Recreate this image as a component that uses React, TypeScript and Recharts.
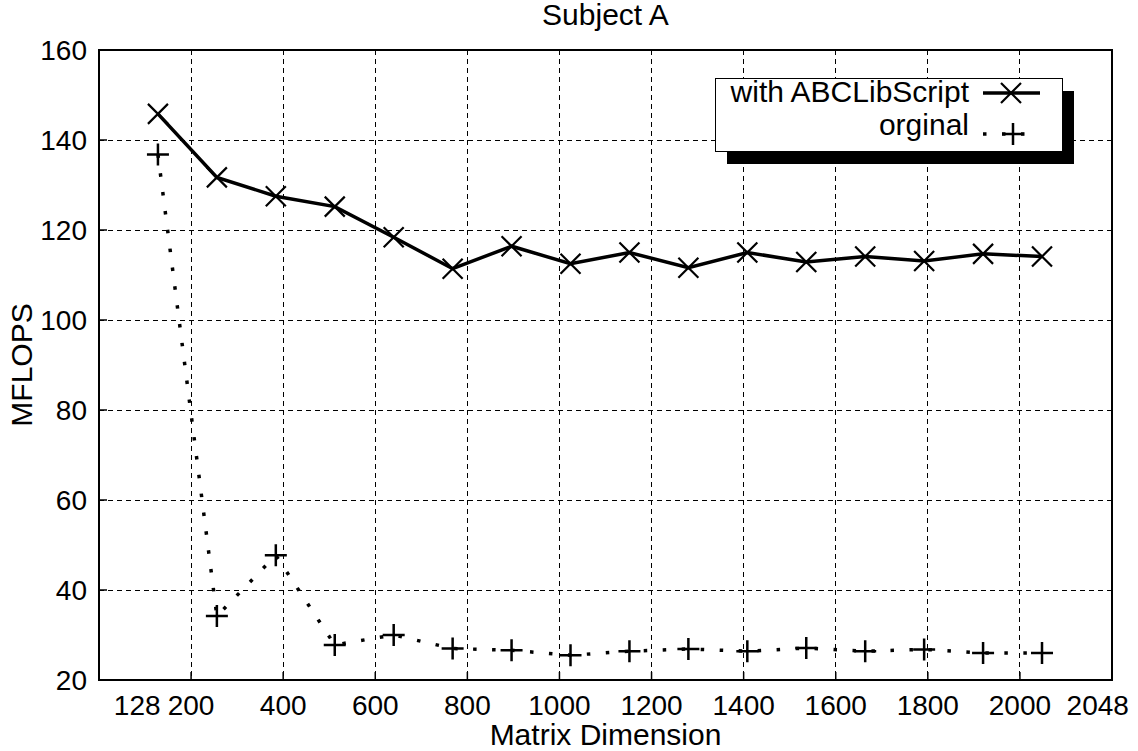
import React from 'react';
import { LineChart, Line, XAxis, YAxis, CartesianGrid, Legend, ReferenceArea } from 'recharts';

// matrix sizes (x) and measured MFLOPS for each series
const sizes = [128, 256, 384, 512, 640, 768, 896, 1024, 1152, 1280, 1408, 1536, 1664, 1792, 1920, 2048];
const withABCLib = [145.8, 131.7, 127.5, 125.2, 118.4, 111.4, 116.4, 112.5, 115.0, 111.6, 115.0, 112.9, 114.1, 113.1, 114.7, 114.1];
const orginal = [136.8, 34.2, 47.7, 27.8, 30.0, 27.0, 26.6, 25.5, 26.4, 26.9, 26.4, 27.1, 26.4, 26.8, 26.0, 26.0];

// x tick labels: "128" and "2048" sit beside the gridded ticks, without a tick mark
const xTickValues = [83, 200, 400, 600, 800, 1000, 1200, 1400, 1600, 1800, 2000, 2169];
const xTickLabels = ['128', '200', '400', '600', '800', '1000', '1200', '1400', '1600', '1800', '2000', '2048'];
const xGrid = [200, 400, 600, 800, 1000, 1200, 1400, 1600, 1800, 2000];
const yTicks = [20, 40, 60, 80, 100, 120, 140, 160];
const yGrid = [40, 60, 80, 100, 120, 140];

const FONT = '"Liberation Sans", Arial, Helvetica, sans-serif';

const data = sizes.map((x, i) => ({ x, abc: withABCLib[i], org: orginal[i] }));

const CrossDot = (props: any) => {
  const { cx, cy, index } = props;
  if (cx == null || cy == null) return <g key={`c${index}`} />;
  const s = 10;
  return (
    <path key={`c${index}`} d={`M${cx - s},${cy - s}L${cx + s},${cy + s}M${cx - s},${cy + s}L${cx + s},${cy - s}`}
      stroke="#000" strokeWidth={2.2} fill="none" />
  );
};

const PlusDot = (props: any) => {
  const { cx, cy, index } = props;
  if (cx == null || cy == null) return <g key={`p${index}`} />;
  const s = 11;
  return (
    <path key={`p${index}`} d={`M${cx - s},${cy}L${cx + s},${cy}M${cx},${cy - s}L${cx},${cy + s}`}
      stroke="#000" strokeWidth={2.5} fill="none" />
  );
};

const XTick = (props: any) => {
  const { x, y, payload } = props;
  const idx = xTickValues.indexOf(payload.value);
  const label = idx >= 0 ? xTickLabels[idx] : String(payload.value);
  const gridded = xGrid.includes(payload.value);
  return (
    <g>
      {gridded && <line x1={x} x2={x} y1={y - 15} y2={y - 23} stroke="#000" strokeWidth={1.5} />}
      <text x={x} y={y} dy="0.71em" textAnchor="middle" fontSize={28} fontFamily={FONT} fill="#000">{label}</text>
    </g>
  );
};

const LegendBox = () => (
  <svg width={362} height={88} style={{ display: 'block', overflow: 'visible' }}>
    <rect x={12} y={13} width={347} height={73} fill="#000" />
    <rect x={0.5} y={0.5} width={347} height={73} fill="#fff" stroke="#000" strokeWidth={1} />
    <text x={254} y={24} textAnchor="end" fontSize={30} fontFamily={FONT} fill="#000">with ABCLibScript</text>
    <line x1={268} x2={325} y1={15} y2={15} stroke="#000" strokeWidth={3.5} />
    <CrossDot cx={296} cy={15} index={0} />
    <text x={254} y={57} textAnchor="end" fontSize={30} fontFamily={FONT} fill="#000">orginal</text>
    <line x1={268} x2={325} y1={56} y2={56} stroke="#000" strokeWidth={3.5} strokeDasharray="3.5 15.5" />
    <PlusDot cx={298} cy={56} index={0} />
  </svg>
);

export default function App() {
  return (
    <div style={{ position: 'absolute', left: 0, top: 0, width: 1138, height: 751, background: '#fff', fontFamily: FONT }}>
      <div style={{ position: 'absolute', left: 0, top: 0, width: 1211, textAlign: 'center', fontSize: 30, lineHeight: '30px', color: '#000' }}>
        Subject A
      </div>
      <LineChart width={1138} height={751} data={data} margin={{ top: 50, right: 26, bottom: 0, left: 0 }}>
        <CartesianGrid stroke="#000" strokeWidth={1} strokeDasharray="5 4" shapeRendering="crispEdges"
          horizontalValues={yGrid} verticalValues={xGrid} />
        <ReferenceArea x1={0} x2={2200} y1={20} y2={160} fill="none" stroke="#000" strokeWidth={2} />
        <XAxis type="number" dataKey="x" domain={[0, 2200]} ticks={xTickValues} interval={0}
          tick={<XTick />} tickLine={false} tickSize={0} tickMargin={15} height={71}
          axisLine={{ stroke: '#000', strokeWidth: 2 }} allowDataOverflow
          label={{ value: 'Matrix Dimension', position: 'insideBottom', offset: 6, fontSize: 30, fontFamily: FONT, fill: '#000' }} />
        <YAxis type="number" domain={[20, 160]} ticks={yTicks} interval={0} width={99}
          tickSize={-8} tickMargin={20} tickLine={{ stroke: '#000', strokeWidth: 1.5 }}
          tick={{ fontSize: 28, fontFamily: FONT, fill: '#000' }}
          axisLine={{ stroke: '#000', strokeWidth: 2 }} allowDataOverflow
          label={{ value: 'MFLOPS', angle: -90, position: 'insideLeft', offset: 21, fontSize: 30, fontFamily: FONT, fill: '#000', style: { textAnchor: 'middle' } }} />
        <Line type="linear" dataKey="org" stroke="#000" strokeWidth={3.5} strokeDasharray="3.5 15.5"
          dot={PlusDot} activeDot={false} isAnimationActive={false} />
        <Line type="linear" dataKey="abc" stroke="#000" strokeWidth={3.5}
          dot={CrossDot} activeDot={false} isAnimationActive={false} />
        <Legend layout="vertical" align="center" verticalAlign="middle" content={<LegendBox />}
          wrapperStyle={{ position: 'absolute', left: 715, top: 78, width: 362, height: 88 }} />
      </LineChart>
    </div>
  );
}
